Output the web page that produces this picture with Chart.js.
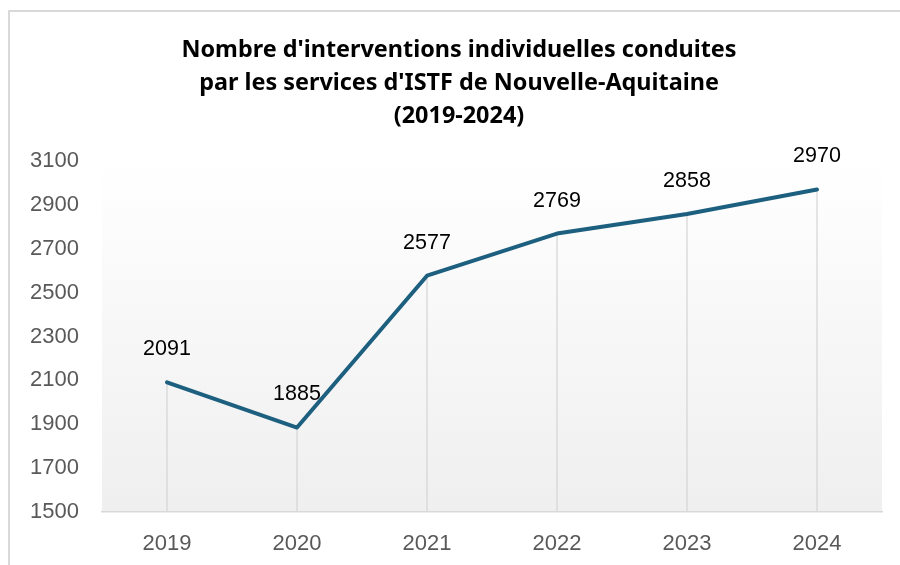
<!DOCTYPE html>
<html>
<head>
<meta charset="utf-8">
<script src="https://cdn.jsdelivr.net/npm/chart.js@4.4.1/dist/chart.umd.min.js"></script>
<style>
  html, body { margin: 0; padding: 0; background: #fff; }
  #wrap { width: 900px; height: 565px; position: relative; }
</style>
</head>
<body>
<div id="wrap"><canvas id="lineChart" width="900" height="565"></canvas></div>
<script>
// data
const years = ['2019', '2020', '2021', '2022', '2023', '2024'];
const interventions = [2091, 1885, 2577, 2769, 2858, 2970];
const yTicks = [1500, 1700, 1900, 2100, 2300, 2500, 2700, 2900, 3100];

const titleLines = [
    "Nombre d'interventions individuelles conduites",
    "par les services d'ISTF de Nouvelle-Aquitaine",
    "(2019-2024)"
];

const LINE_COLOR = '#1d5f7f';
const TICK_COLOR = '#595959';
const TICK_FONT = { family: '"Liberation Sans", Arial, sans-serif', size: 22 };

// white page + thin frame, gradient in plot area
const backdrop = {
    id: 'backdrop',
    afterLayout(chart) {
        // centre the title inside the frame, not the whole canvas
        if (chart.titleBlock) chart.titleBlock.left = 36;
    },
    beforeDraw(chart) {
        const { ctx, chartArea: a } = chart;
        ctx.save();
        ctx.fillStyle = '#fff';
        ctx.fillRect(0, 0, chart.width, chart.height);
        ctx.strokeStyle = '#d9d9d9';
        ctx.lineWidth = 2;
        ctx.beginPath();
        ctx.moveTo(9, chart.height + 5);
        ctx.lineTo(9, 11);
        ctx.lineTo(chart.width + 5, 11);
        ctx.stroke();
        const g = ctx.createLinearGradient(0, a.top, 0, a.bottom);
        g.addColorStop(0, '#ffffff');
        g.addColorStop(1, '#efefef');
        ctx.fillStyle = g;
        ctx.fillRect(a.left, a.top, a.right - a.left, a.bottom - a.top);
        ctx.restore();
    }
};

// vertical drop lines from each point to the axis
const dropLines = {
    id: 'dropLines',
    beforeDatasetsDraw(chart) {
        const { ctx, chartArea: a } = chart;
        const meta = chart.getDatasetMeta(0);
        ctx.save();
        ctx.strokeStyle = '#d4d4d4';
        ctx.lineWidth = 1.2;
        meta.data.forEach(pt => {
            ctx.beginPath();
            ctx.moveTo(pt.x, pt.y);
            ctx.lineTo(pt.x, a.bottom);
            ctx.stroke();
        });
        ctx.restore();
    }
};

// value labels above points
const valueLabels = {
    id: 'valueLabels',
    afterDatasetsDraw(chart) {
        const { ctx } = chart;
        const meta = chart.getDatasetMeta(0);
        ctx.save();
        ctx.fillStyle = '#000';
        ctx.font = '21.5px "Liberation Sans", Arial, sans-serif';
        ctx.textAlign = 'center';
        ctx.textBaseline = 'middle';
        meta.data.forEach((pt, i) => {
            ctx.fillText(String(interventions[i]), pt.x, pt.y - 33);
        });
        ctx.restore();
    }
};

new Chart(document.getElementById('lineChart'), {
    type: 'line',
    data: {
        labels: years,
        datasets: [{
            data: interventions,
            borderColor: LINE_COLOR,
            borderWidth: 4,
            pointRadius: 0,
            tension: 0,
            borderCapStyle: 'round',
            borderJoinStyle: 'round',
            clip: false
        }]
    },
    options: {
        responsive: false,
        animation: false,
        devicePixelRatio: 1,
        layout: { padding: { left: 0, right: 18, top: 0, bottom: 0 } },
        scales: {
            x: {
                offset: true,
                grid: { display: false, drawTicks: false },
                border: { display: true, color: '#d9d9d9', width: 1.5 },
                ticks: { color: TICK_COLOR, padding: 19, font: TICK_FONT },
                afterFit(scale) { scale.height = 53; }
            },
            y: {
                min: 1500,
                max: 3100,
                afterBuildTicks(scale) { scale.ticks = yTicks.map(v => ({ value: v })); },
                grid: { display: false, drawTicks: false },
                border: { display: false },
                ticks: {
                    color: TICK_COLOR,
                    padding: 23,
                    font: TICK_FONT,
                    callback: v => String(v)
                },
                afterFit(scale) { scale.width = 102; }
            }
        },
        plugins: {
            legend: { display: false },
            tooltip: { enabled: false },
            title: {
                display: true,
                text: titleLines,
                color: '#000',
                font: { family: '"Noto Sans", "Open Sans", sans-serif', size: 23.4, weight: 'bold', lineHeight: 1.41 },
                padding: { top: 34, bottom: 28 }
            }
        }
    },
    plugins: [backdrop, dropLines, valueLabels]
});
</script>
</body>
</html>
